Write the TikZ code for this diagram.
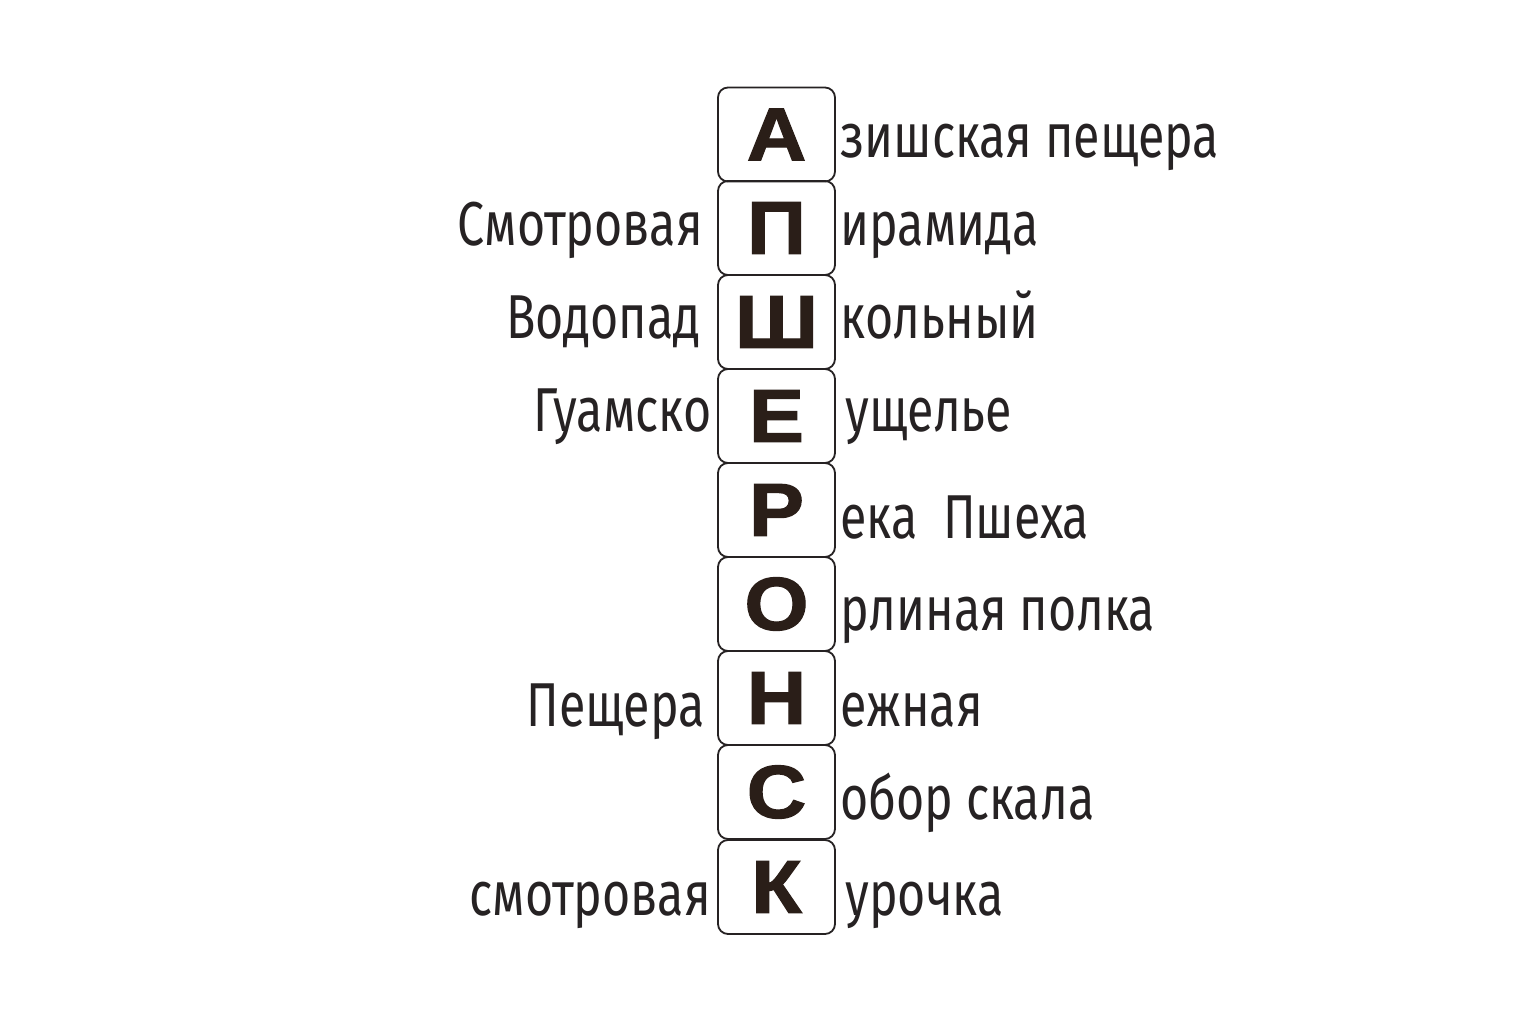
\documentclass[tikz,border=0pt]{standalone}
\usepackage{fontspec}
\newfontfamily\txtfont[FakeStretch=0.78]{Fira Sans}
\newfontfamily\letfont[FakeStretch=1.1,FakeBold=1.6]{Liberation Sans Bold}
\definecolor{lettercol}{HTML}{2A1E18}
\definecolor{textcol}{HTML}{262223}
\begin{document}
\begin{tikzpicture}[x=0.5pt,y=-0.5pt,
  tile/.style={draw=textcol, line width=0.9pt, rounded corners=5pt,
    minimum width=58.5pt, minimum height=47pt, inner sep=0pt,
    text=lettercol, font=\letfont\fontsize{37.5pt}{37.5pt}\selectfont},
  word/.style={text=textcol, inner sep=0pt,
    font=\txtfont\fontsize{31pt}{31pt}\selectfont},
  lword/.style={word, anchor=base east},
  rword/.style={word, anchor=base west}]
\path[use as bounding box, fill=white] (0,0) rectangle (1536,1024);
% tiles
\node[tile] (b1) at (776.5,134.5) {А};
\node[tile] (b2) at (776.5,228) {П};
\node[tile] (b3) at (776.5,322) {Ш};
\node[tile] (b4) at (776.5,416) {Е};
\node[tile] (b5) at (776.5,510) {Р};
\node[tile] (b6) at (776.5,604) {О};
\node[tile] (b7) at (776.5,698) {Н};
\node[tile] (b8) at (776.5,792) {С};
\node[tile] (b9) at (776.5,887) {К};
% right words
\node[rword] (r1) at (840,157) {зишская пещера};
\node[rword] (r2) at (840,245) {ирамида};
\node[rword] (r3) at (840,338) {кольный};
\node[rword] (r4) at (845,431) {ущелье};
\node[rword] (r5) at (840,538) {ека\ \ Пшеха};
\node[rword] (r6) at (840,630) {рлиная полка};
\node[rword] (r7) at (840,726) {ежная};
\node[rword] (r8) at (840,819) {обор скала};
\node[rword] (r9) at (845,915) {урочка};
% left words
\node[lword] (l2) at (703,245) {Смотровая};
\node[lword] (l3) at (701,338) {Водопад};
\node[lword] (l4) at (712,431) {Гуамско};
\node[lword] (l7) at (705,726) {Пещера};
\node[lword] (l9) at (711,915) {смотровая};
\end{tikzpicture}
\end{document}
